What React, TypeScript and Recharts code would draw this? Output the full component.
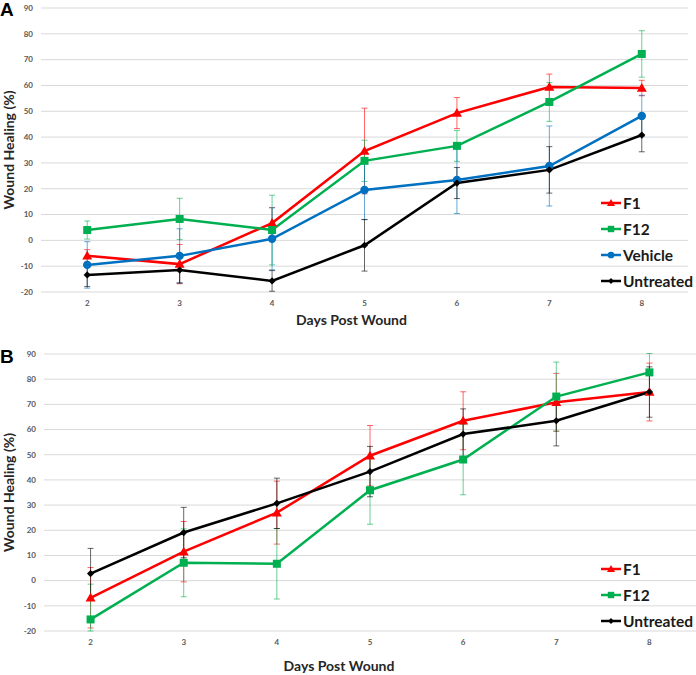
import React from 'react';
import { LineChart, Line, XAxis, YAxis, CartesianGrid, ErrorBar, Legend } from 'recharts';

const days = [2, 3, 4, 5, 6, 7, 8];
const yTicks = [-20, -10, 0, 10, 20, 30, 40, 50, 60, 70, 80, 90];

// panel A
const f1A = [-6, -9.2, 6.7, 34.6, 49.3, 59.4, 59];
const f1AErr = [2.4, 7.6, 6, 16.6, 6, 5, 3];
const f12A = [4, 8.3, 4, 30.8, 36.6, 53.6, 72.2];
const f12AErr = [3.5, 8, 13.5, 8, 6, 7.5, 9];
const vehicleA = [-9.5, -6, 0.6, 19.5, 23.4, 28.8, 48.2];
const vehicleAErr = [9, 10.5, 12, 11.5, 13, 15.5, 8];
const untreatedA = [-13.4, -11.5, -15.7, -1.9, 22.2, 27.3, 40.8];
const untreatedAErr = [4.5, 5, 4, 10, 6, 9, 6.5];

// panel B (first F12 bar is cut off at the axis floor, so it is [down, up])
const f1B = [-6.8, 11.5, 27, 49.6, 63.5, 70.8, 74.9];
const f1BErr = [12, 12, 12.5, 12, 11.5, 11.5, 11.5];
const f12B = [-15.4, 7.1, 6.7, 35.9, 48.1, 73.1, 82.7];
const f12BErr: (number | number[])[] = [[4.6, 14], 13.5, 14, 13.5, 14, 13.7, 7.5];
const untreatedB = [2.8, 19.1, 30.7, 43.3, 58.2, 63.5, 74.9];
const untreatedBErr = [10, 10, 10, 10, 10, 10, 10];

const FONT = 'Lato, "Open Sans", sans-serif';
const RED = '#ff0000';
const GREEN = '#00b050';
const BLUE = '#0070c0';
const BLACK = '#000000';

type Shape = 'triangle' | 'square' | 'circle' | 'diamond';

interface SeriesDef {
  key: string;
  name: string;
  color: string;
  shape: Shape;
  values: number[];
  errors: (number | number[])[];
}

const seriesA: SeriesDef[] = [
  { key: 'f1', name: 'F1', color: RED, shape: 'triangle', values: f1A, errors: f1AErr },
  { key: 'f12', name: 'F12', color: GREEN, shape: 'square', values: f12A, errors: f12AErr },
  { key: 'vehicle', name: 'Vehicle', color: BLUE, shape: 'circle', values: vehicleA, errors: vehicleAErr },
  { key: 'untreated', name: 'Untreated', color: BLACK, shape: 'diamond', values: untreatedA, errors: untreatedAErr },
];

const seriesB: SeriesDef[] = [
  { key: 'f1', name: 'F1', color: RED, shape: 'triangle', values: f1B, errors: f1BErr },
  { key: 'f12', name: 'F12', color: GREEN, shape: 'square', values: f12B, errors: f12BErr },
  { key: 'untreated', name: 'Untreated', color: BLACK, shape: 'diamond', values: untreatedB, errors: untreatedBErr },
];

function buildRows(series: SeriesDef[]) {
  return days.map((d, i) => {
    const row: Record<string, any> = { day: d };
    series.forEach((s) => {
      row[s.key] = s.values[i];
      row[s.key + 'Err'] = s.errors[i];
    });
    return row;
  });
}

function Marker({ shape, cx, cy, color, scale = 1 }: { shape: Shape; cx: number; cy: number; color: string; scale?: number }) {
  if (cx == null || cy == null) return null;
  if (shape === 'triangle') {
    const s = 5 * scale;
    return <polygon points={`${cx},${cy - s} ${cx + s},${cy + s * 0.75} ${cx - s},${cy + s * 0.75}`} fill={color} />;
  }
  if (shape === 'square') {
    const s = 4 * scale;
    return <rect x={cx - s} y={cy - s} width={s * 2} height={s * 2} fill={color} />;
  }
  if (shape === 'circle') {
    return <circle cx={cx} cy={cy} r={4.2 * scale} fill={color} />;
  }
  const s = 3.6 * scale;
  return <polygon points={`${cx},${cy - s} ${cx + s},${cy} ${cx},${cy + s} ${cx - s},${cy}`} fill={color} />;
}

function LegendBox({ series }: { series: SeriesDef[] }) {
  return (
    <div style={{ fontFamily: FONT, fontWeight: 700, fontSize: 15.5, color: '#1a1a1a' }}>
      {series.map((s) => (
        <div key={s.key} style={{ display: 'flex', alignItems: 'center', height: 26 }}>
          <svg width={22} height={14} style={{ marginRight: 1 }}>
            <line x1={1} y1={7} x2={21} y2={7} stroke={s.color} strokeWidth={2.5} />
            <Marker shape={s.shape} cx={11} cy={7} color={s.color} scale={0.8} />
          </svg>
          <span>{s.name}</span>
        </div>
      ))}
    </div>
  );
}

interface PanelProps {
  series: SeriesDef[];
  height: number;
  margin: { top: number; right: number; bottom: number; left: number };
  yAxisWidth: number;
  xAxisHeight: number;
  legendPos: { left: number; top: number };
  xTitleShift: number;
  xTitleOffset: number;
}

function Panel({ series, height, margin, yAxisWidth, xAxisHeight, legendPos, xTitleShift, xTitleOffset }: PanelProps) {
  const rows = buildRows(series);
  const tick = { fontSize: 8, fontWeight: 700, fill: '#595959', fontFamily: FONT };
  return (
    <LineChart width={696} height={height} data={rows} margin={margin}>
      <CartesianGrid vertical={false} stroke="#d9d9d9" strokeWidth={1} />
      <XAxis
        dataKey="day"
        type="number"
        domain={[1.5, 8.5]}
        ticks={days}
        axisLine={false}
        tickLine={false}
        height={xAxisHeight}
        tick={tick}
        label={{
          content: (p: any) => {
            const vb = p.viewBox || {};
            return (
              <text
                x={vb.x + vb.width / 2 + xTitleShift}
                y={vb.y + vb.height - xTitleOffset}
                textAnchor="middle"
                fontFamily={FONT}
                fontWeight={700}
                fontSize={14}
                fill="#262626"
              >
                Days Post Wound
              </text>
            );
          },
        }}
      />
      <YAxis
        domain={[-20, 90]}
        ticks={yTicks}
        allowDataOverflow
        axisLine={false}
        tickLine={false}
        width={yAxisWidth}
        tick={tick}
        label={{
          content: (p: any) => {
            const vb = p.viewBox || {};
            const cx = 14;
            const cy = vb.y + vb.height / 2;
            return (
              <text
                x={cx}
                y={cy}
                transform={`rotate(-90, ${cx}, ${cy})`}
                textAnchor="middle"
                fontFamily={FONT}
                fontWeight={700}
                fontSize={14}
                fill="#262626"
              >
                Wound Healing (%)
              </text>
            );
          },
        }}
      />
      <Legend
        layout="vertical"
        align="center"
        verticalAlign="middle"
        wrapperStyle={{ left: legendPos.left, top: legendPos.top, width: 96 }}
        content={() => <LegendBox series={series} />}
      />
      {series.map((s) => (
        <Line
          key={s.key}
          dataKey={s.key}
          name={s.name}
          stroke={s.color}
          strokeWidth={2.5}
          isAnimationActive={false}
          dot={(p: any) => <Marker key={`${s.key}-${p.index}`} shape={s.shape} cx={p.cx} cy={p.cy} color={s.color} />}
          activeDot={false}
        >
          <ErrorBar dataKey={s.key + 'Err'} direction="y" width={3} strokeWidth={1} stroke={s.color} strokeOpacity={0.6} />
        </Line>
      ))}
    </LineChart>
  );
}

export default function App() {
  return (
    <div style={{ position: 'absolute', left: 0, top: 0, width: 696, height: 675, background: '#fff' }}>
      <div style={{ position: 'absolute', left: 0, top: 0 }}>
        <Panel
          series={seriesA}
          height={335}
          margin={{ top: 8, right: 8, bottom: 0, left: 0 }}
          yAxisWidth={41}
          xAxisHeight={43}
          legendPos={{ left: 600, top: 190 }}
          xTitleShift={-13}
          xTitleOffset={10}
        />
      </div>
      <div style={{ position: 'absolute', left: 0, top: 335 }}>
        <Panel
          series={seriesB}
          height={340}
          margin={{ top: 19, right: 0, bottom: 0, left: 0 }}
          yAxisWidth={44}
          xAxisHeight={44}
          legendPos={{ left: 600, top: 221 }}
          xTitleShift={-31}
          xTitleOffset={4}
        />
      </div>
      <div style={{ position: 'absolute', left: 0, top: -1, fontFamily: '"Liberation Sans", Arial, sans-serif', fontWeight: 700, fontSize: 19 }}>A</div>
      <div style={{ position: 'absolute', left: 0, top: 346, fontFamily: '"Liberation Sans", Arial, sans-serif', fontWeight: 700, fontSize: 19 }}>B</div>
    </div>
  );
}
